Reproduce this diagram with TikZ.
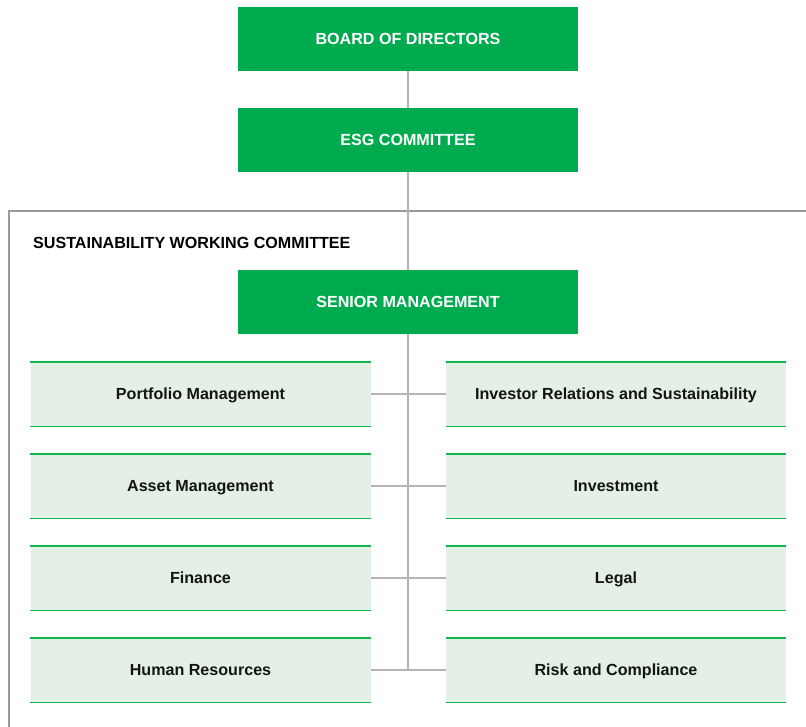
\documentclass[tikz,border=0pt]{standalone}
\usepackage{fontspec}
\setmainfont{Liberation Sans}
\begin{document}
\begin{tikzpicture}[x=1pt,y=-1pt,
  label font/.style={font=\bfseries\fontsize{16.1}{18}\selectfont},
  lead/.style={label font,fill=leadgreen,draw=none,minimum width=340pt,minimum height=64pt,
    text=white,inner sep=0pt,text height=11.6pt,text depth=0.3pt},
  unit/.style={label font,fill=unitfill,draw=none,minimum width=340pt,minimum height=64pt,
    text=black!92,inner sep=0pt,text height=11.6pt,text depth=0.3pt},
  rule/.style={draw=unitline,line width=1.4pt},
  link/.style={draw=linkgray,line width=1.2pt},
  frame/.style={draw=framegray,line width=2pt}]
\definecolor{leadgreen}{HTML}{00AA4E}
\definecolor{unitfill}{HTML}{E4F0E6}
\definecolor{unitline}{HTML}{10B84E}
\definecolor{linkgray}{HTML}{B4B4B8}
\definecolor{framegray}{HTML}{9A9A9A}
\useasboundingbox (0,0) rectangle (806,726);

% outer frame of the working committee (open to the right and below)
\coordinate (fl) at (9,730);
\coordinate (ftl) at (9,211);
\coordinate (fr) at (810,211);
\draw[frame] (fl) -- (ftl) -- (fr);
\node[anchor=west,label font,inner sep=0pt,text height=11.6pt,text depth=0.3pt] (swc) at (33,242.5) {SUSTAINABILITY WORKING COMMITTEE};

% leadership chain
\node[lead] (bod) at (408,38.5) {BOARD OF DIRECTORS};
\node[lead] (esg) at (408,140) {ESG COMMITTEE};
\node[lead] (sm) at (408,302) {SENIOR MANAGEMENT};

% working units
\foreach \n/\t/\y in {l1/Portfolio Management/394, l2/Asset Management/486, l3/Finance/578, l4/Human Resources/670}{
  \node[unit] (\n) at (200.5,\y) {\t};
  \draw[rule] (\n.north west) -- (\n.north east);
  \draw[rule] (\n.south west) -- (\n.south east);
}
\foreach \n/\t/\y in {r1/Investor Relations and Sustainability/394, r2/Investment/486, r3/Legal/578, r4/Risk and Compliance/670}{
  \node[unit] (\n) at (616,\y) {\t};
  \draw[rule] (\n.north west) -- (\n.north east);
  \draw[rule] (\n.south west) -- (\n.south east);
}

% connectors
\draw[link] (bod.south) -- (esg.north);
\draw[link] (esg.south) -- (sm.north);
\coordinate (trunk) at (sm.south |- l4.east);
\draw[link] (sm.south) -- (trunk);
\foreach \a/\b in {l1/r1,l2/r2,l3/r3,l4/r4}{
  \draw[link] (\a.east) -- (\b.west);
}
\end{tikzpicture}
\end{document}
